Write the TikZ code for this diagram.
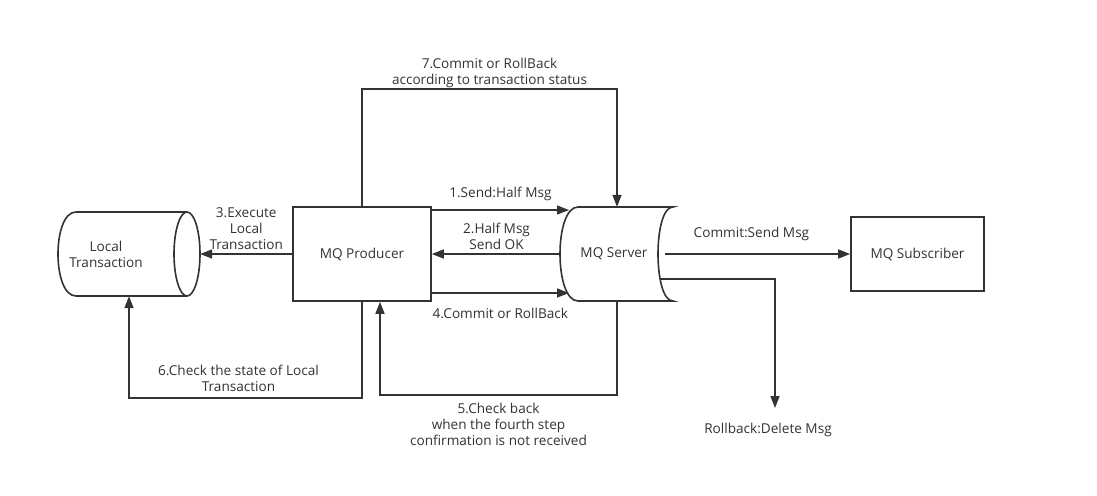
\documentclass[tikz,border=0pt]{standalone}
\usepackage{fontspec}
\setmainfont{Open Sans}
\usepackage{tikz}
\usetikzlibrary{calc}
\usetikzlibrary{arrows.meta}
\definecolor{ink}{HTML}{333333}
\tikzset{%
  myedge/.style={-{Triangle[length=12pt,width=9pt]}, line width=1.6pt, draw=ink},
  myline/.style={line width=1.6pt, draw=ink},
  mybox/.style={rectangle, draw=ink, line width=1.6pt},
  myshape/.style={rectangle, draw=none},
  mytext/.style={text=ink, align=center, inner sep=1pt, font=\fontsize{13.6}{16}\selectfont}
}

\begin{document}
\begin{tikzpicture}[x=1pt, y=-1pt]
  \useasboundingbox[fill=white] (0,0) rectangle (1097,495);
  % outlines of the two stores
  \draw[myline] (76,212) -- (187,212) (76,296) -- (187,296)
    (76,296) .. controls (52,296) and (52,212) .. (76,212);
  \draw[myline] (187,254) ellipse [x radius=13, y radius=42];
  \draw[myline] (578,207) -- (673,207) .. controls (653,207) and (653,301) .. (673,301)
    -- (578,301) .. controls (554,301) and (554,207) .. (578,207) -- cycle;
  % nodes
  \node[myshape, minimum width=142, minimum height=84] (lt) at (129,254) {};
  \node[mytext] (ltt) at (106,254) {Local\\Transaction};
  \node[mybox, mytext, minimum width=138, minimum height=94] (prod) at (362,254) {MQ Producer};
  \node[myshape, mytext, minimum width=111, minimum height=94] (srv) at (617,254) {};
  \node[mytext] (srvt) at (614,254) {MQ Server};
  \node[mybox, mytext, minimum width=133, minimum height=74] (sub) at (917.5,254) {MQ Subscriber};
  \coordinate (s1) at (569,210);
  \coordinate (s4) at (569,293);
  \coordinate (r0) at (661,279);
  \coordinate (r1) at (775,408);
  % edges
  \draw[myedge] (prod.east |- s1) -- (s1) node[mytext, midway, above=7pt] {1.Send:Half Msg};
  \draw[myedge] (srv.west) -- (prod.east) node[mytext, midway, above=3pt] {2.Half Msg\\Send OK};
  \draw[myedge] (prod.west) -- (lt.east) node[mytext, midway, above=3pt] {3.Execute\\Local\\Transaction};
  \draw[myedge] (prod.east |- s4) -- (s4) node[mytext, midway, below=13pt] {4.Commit or RollBack};
  \draw[myedge] (srv.south) -- ++(0,94) -| ([xshift=18]prod.south)
    node[mytext, pos=0.25, below=6pt] {5.Check back\\when the fourth step\\confirmation is not received};
  \draw[myedge] (prod.south) -- ++(0,96) -| (lt.south)
    node[mytext, pos=0.25, above=4pt, xshift=-7] {6.Check the state of Local\\Transaction};
  \draw[myedge] (prod.north) -- ++(0,-117) -| (srv.north)
    node[mytext, pos=0.25, above=0pt] {7.Commit or RollBack\\according to transaction status};
  \draw[myedge] ([xshift=-8]srv.east) -- (sub.west) node[mytext, midway, above=11pt, xshift=-6] {Commit:Send Msg};
  \draw[myedge] (r0) -| (r1);
  \node[mytext, below=14pt, xshift=-7] (rbl) at (r1) {Rollback:Delete Msg};
\end{tikzpicture}
\end{document}
